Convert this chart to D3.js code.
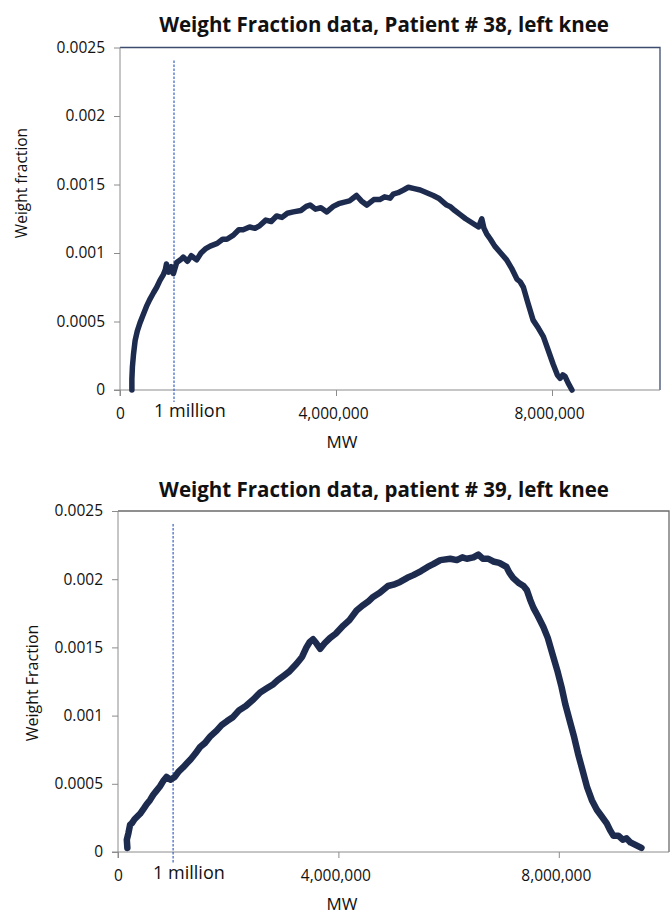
<!DOCTYPE html>
<html>
<head>
<meta charset="utf-8">
<script src="https://cdn.jsdelivr.net/npm/d3@7"></script>
<style>
  body { margin: 0; background: #fff; }
  text { font-family: "Open Sans", "Liberation Sans", sans-serif; fill: #111; }
  .title { font-weight: 700; }
</style>
</head>
<body>
<div class="chart"></div>
<script>
const svgWidth = 670
const svgHeight = 914

// Patient 38 - MW in millions, weight fraction
const p38MW = [0.22, 0.22, 0.23, 0.25, 0.28, 0.32, 0.37, 0.42, 0.49, 0.55, 0.62, 0.68, 0.74, 0.80, 0.84, 0.86, 0.90, 0.95, 0.99, 1.05,
  1.12, 1.17, 1.25, 1.32, 1.42, 1.5, 1.58, 1.67, 1.8, 1.9, 1.98, 2.1, 2.2, 2.28, 2.4, 2.5, 2.59, 2.7, 2.8, 2.9,
  3.0, 3.1, 3.21, 3.35, 3.45, 3.52, 3.62, 3.72, 3.83, 3.95, 4.05, 4.14, 4.25, 4.38, 4.47, 4.57, 4.7, 4.81, 4.9, 5.0,
  5.06, 5.15, 5.25, 5.34, 5.45, 5.56, 5.68, 5.8, 5.9, 5.99, 6.05, 6.11, 6.2, 6.3, 6.4, 6.48, 6.56, 6.64, 6.7, 6.74,
  6.79, 6.86, 6.94, 7.05, 7.16, 7.25, 7.35, 7.41, 7.47, 7.55, 7.65, 7.75, 7.84, 7.93, 8.02, 8.1, 8.15, 8.2, 8.24, 8.3, 8.37]
const p38WF = [0, 0.00008, 0.00017, 0.00026, 0.00036, 0.00043, 0.00049, 0.00054, 0.00061, 0.00066, 0.00071, 0.00075, 0.0008, 0.00084, 0.00088, 0.00092, 0.00086, 0.0009, 0.00085, 0.00093,
  0.00095, 0.00097, 0.00094, 0.00098, 0.00095, 0.001, 0.00103, 0.00105, 0.00107, 0.0011, 0.0011, 0.00113, 0.00117, 0.00117, 0.00119, 0.00118, 0.0012, 0.00124, 0.00123, 0.00127,
  0.00126, 0.00129, 0.0013, 0.00131, 0.00134, 0.00135, 0.00132, 0.00133, 0.0013, 0.00134, 0.00136, 0.00137, 0.00138, 0.00142, 0.00138, 0.00135, 0.00139, 0.00139, 0.00141, 0.0014,
  0.00143, 0.00144, 0.00146, 0.00148, 0.00147, 0.00146, 0.00144, 0.00142, 0.0014, 0.00137, 0.00135, 0.00134, 0.00131, 0.00128, 0.00125, 0.00123, 0.00121, 0.00119, 0.00125, 0.00118,
  0.00114, 0.0011, 0.00105, 0.001, 0.00095, 0.00089, 0.00081, 0.00079, 0.00075, 0.00064, 0.00051, 0.00045, 0.00039, 0.00029, 0.00019, 0.00011, 0.000085, 0.00011, 0.0001, 0.00005, 0]

// Patient 39
const p39MW = [0.17, 0.16, 0.19, 0.22, 0.25, 0.3, 0.35, 0.4, 0.47, 0.52, 0.58, 0.64, 0.7, 0.76, 0.82, 0.88, 0.95, 1.03, 1.1, 1.18,
  1.25, 1.32, 1.4, 1.49, 1.58, 1.68, 1.79, 1.88, 1.98, 2.09, 2.2, 2.32, 2.46, 2.58, 2.7, 2.82, 2.9, 3.0, 3.1, 3.24,
  3.34, 3.42, 3.48, 3.54, 3.6, 3.67, 3.75, 3.85, 3.95, 4.09, 4.2, 4.33, 4.45, 4.55, 4.63, 4.75, 4.9, 5.0, 5.12, 5.25,
  5.36, 5.5, 5.62, 5.72, 5.85, 6.03, 6.15, 6.25, 6.33, 6.45, 6.54, 6.62, 6.72, 6.81, 6.92, 7.05, 7.1, 7.17, 7.28, 7.36,
  7.42, 7.48, 7.54, 7.62, 7.72, 7.8, 7.9, 7.98, 8.05, 8.12, 8.2, 8.28, 8.35, 8.43, 8.51, 8.6, 8.69, 8.78, 8.87, 8.93,
  8.99, 9.08, 9.16, 9.23, 9.3, 9.4, 9.5]
const p39WF = [0.00003, 0.00009, 0.00014, 0.0002, 0.00021, 0.00024, 0.00026, 0.00028, 0.00032, 0.00035, 0.00038, 0.00042, 0.00045, 0.00048, 0.00052, 0.00055, 0.00053, 0.00055, 0.00059, 0.00062,
  0.00065, 0.00068, 0.00072, 0.00077, 0.0008, 0.00085, 0.00089, 0.00093, 0.00096, 0.00099, 0.00104, 0.00107, 0.00112, 0.00117, 0.0012, 0.00123, 0.00126, 0.00129, 0.00132, 0.00138,
  0.00143, 0.0015, 0.00154, 0.00156, 0.00153, 0.00149, 0.00153, 0.00157, 0.0016, 0.00166, 0.0017, 0.00177, 0.00181, 0.00184, 0.00187, 0.0019, 0.00195, 0.00196, 0.00198, 0.00201,
  0.00203, 0.00206, 0.00209, 0.00211, 0.00214, 0.00215, 0.00214, 0.00216, 0.00215, 0.00216, 0.00218, 0.00215, 0.00215, 0.00213, 0.00212, 0.00209, 0.00205, 0.00201, 0.00197, 0.00195,
  0.00192, 0.00185, 0.00179, 0.00173, 0.00165, 0.00157, 0.00143, 0.00132, 0.00121, 0.00108, 0.00096, 0.00084, 0.00072, 0.0006, 0.00048, 0.00038, 0.00031, 0.00026, 0.00021, 0.00016,
  0.00012, 0.00012, 0.00009, 0.0001, 0.00007, 0.00005, 0.00003]

const xTicks = [0, 4000000, 8000000]
const yTicks = [0, 0.0005, 0.001, 0.0015, 0.002, 0.0025]
const markerMW = 1000000

let svg = d3
  .select(".chart")
  .append("svg")
  .attr("width", svgWidth)
  .attr("height", svgHeight)

svg.append("rect").attr("width", svgWidth).attr("height", svgHeight).attr("fill", "#fff")

function drawChart(cfg) {
  let x = d3.scaleLinear().domain([0, 10000000]).range([cfg.left, cfg.right])
  let y = d3.scaleLinear().domain([0, 0.0025]).range([cfg.bottom, cfg.top])

  let g = svg.append("g")

  // frame (top / right)
  g.append("path")
    .attr("d", `M${cfg.left},${cfg.top}H${cfg.right}V${cfg.bottom}`)
    .attr("fill", "none")
    .attr("stroke", cfg.frameColor)
    .attr("stroke-width", 1.3)

  // y axis
  let yAxis = g.append("g")
    .attr("transform", `translate(${cfg.left},0)`)
    .call(d3.axisLeft(y).tickValues(yTicks).tickSize(6).tickPadding(9)
      .tickFormat(d => d === 0 ? "0" : String(+d.toFixed(4))))
  yAxis.select(".domain").attr("stroke", "#8c8c8c").attr("d", `M0,${cfg.bottom + 6}V${cfg.top}`)
  yAxis.selectAll(".tick line").attr("stroke", "#8c8c8c")
  yAxis.selectAll("text").attr("font-size", "15.5px").attr("font-family", null).attr("fill", "#111")

  // x axis
  let xAxis = g.append("g")
    .attr("transform", `translate(0,${cfg.bottom})`)
    .call(d3.axisBottom(x).tickValues(xTicks).tickSize(6).tickPadding(12)
      .tickFormat(d => d === 0 ? "0" : d3.format(",")(d)))
  xAxis.select(".domain").attr("stroke", "#8c8c8c").attr("d", `M${cfg.left - 6},0H${cfg.right}`)
  xAxis.selectAll(".tick line").attr("stroke", "#8c8c8c")
  xAxis.selectAll("text").attr("font-size", "15.5px").attr("font-family", null).attr("fill", "#111")
  xAxis.selectAll(".tick text").attr("dx", d => d === 0 ? 0 : -3)

  // 1 million marker
  g.append("line")
    .attr("x1", x(markerMW)).attr("x2", x(markerMW))
    .attr("y1", cfg.top + 13).attr("y2", cfg.bottom + 12)
    .attr("stroke", "#3a62c0")
    .attr("stroke-width", 1.2)
    .attr("stroke-dasharray", "2.5,1.5")

  g.append("text")
    .attr("x", x(markerMW) - 20)
    .attr("y", cfg.bottom + 27)
    .attr("font-size", "18px")
    .text("1 million")

  // data line
  let data = cfg.mw.map((m, i) => ({ mw: m * 1000000, wf: cfg.wf[i] }))
  g.append("path")
    .datum(data)
    .attr("fill", "none")
    .attr("stroke", "#1d2b4f")
    .attr("stroke-width", cfg.lineWidth)
    .attr("stroke-linejoin", "round")
    .attr("stroke-linecap", "round")
    .attr("d", d3.line().x(d => x(d.mw)).y(d => y(d.wf)))

  // titles
  g.append("text")
    .classed("title", true)
    .attr("x", cfg.titleX)
    .attr("y", cfg.titleY)
    .attr("text-anchor", "middle")
    .attr("font-size", "20.5px")
    .text(cfg.title)

  g.append("text")
    .attr("x", cfg.mwX)
    .attr("y", cfg.bottom + 58)
    .attr("text-anchor", "middle")
    .attr("font-size", "17px")
    .text("MW")

  g.append("text")
    .attr("transform", `translate(${cfg.yLabelX},${cfg.yLabelY}) rotate(-90)`)
    .attr("text-anchor", "middle")
    .attr("font-size", cfg.yLabelSize)
    .text(cfg.yLabel)
}

drawChart({
  left: 120, right: 660, top: 47.5, bottom: 390,
  mw: p38MW, wf: p38WF, lineWidth: 5.5,
  frameColor: "#3d4c6e",
  title: "Weight Fraction data, Patient # 38, left knee",
  titleX: 384, titleY: 32,
  mwX: 342,
  yLabel: "Weight fraction", yLabelX: 27, yLabelY: 183, yLabelSize: "15.5px"
})

drawChart({
  left: 118, right: 669, top: 511, bottom: 852,
  mw: p39MW, wf: p39WF, lineWidth: 6.5,
  frameColor: "#6b6b6b",
  title: "Weight Fraction data, patient # 39, left knee",
  titleX: 384, titleY: 497,
  mwX: 342,
  yLabel: "Weight Fraction", yLabelX: 38, yLabelY: 683, yLabelSize: "16px"
})
</script>
</body>
</html>
